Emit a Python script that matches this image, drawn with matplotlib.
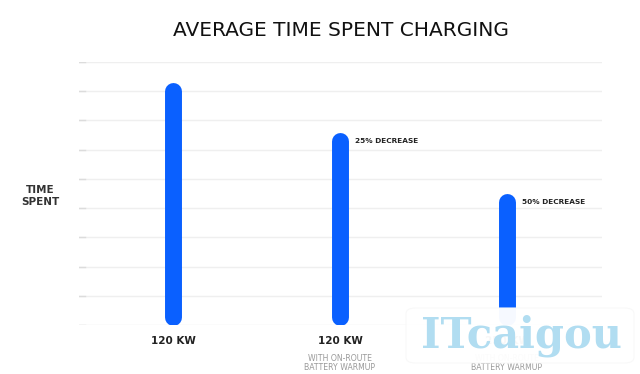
import matplotlib.pyplot as plt
from matplotlib.patches import FancyBboxPatch

# 数据
categories = ['120 KW', '120 KW', '250 KW']
subtitles = ['', 'WITH ON-ROUTE\nBATTERY WARMUP', 'WITH ON-ROUTE\nBATTERY WARMUP']
time_spent = [8.3, 6.6, 4.5]
notes = ['', '25% DECREASE', '50% DECREASE']
grid_levels = list(range(10))

BLUE = '#0a60ff'
DARK = '#222222'

fig = plt.figure(figsize=(6.4, 3.74), dpi=100)
ax = fig.add_axes([79 / 640, 49 / 374, 523 / 640, 263 / 374])
ax.set_xlim(-0.563, 2.569)
ax.set_ylim(0, 9)
ax.axis('off')

# 网格线（左端略深的小刻度）
for g in grid_levels:
    ax.axhline(g, color='#efefef', lw=1.0, zorder=0)
    ax.plot([-0.563, -0.53], [g, g], color='#dcdcdc', lw=1.0, zorder=1)

# 圆角竖条：粗线 + 圆头
bar_w_pt = 12.2
cap = (bar_w_pt / 72 * 100 / 2) / 263 * 9  # 圆头半径换算成数据单位
for i, v in enumerate(time_spent):
    ax.plot([i, i], [cap, v - cap], color=BLUE, lw=bar_w_pt,
            solid_capstyle='round', zorder=3)
    if notes[i]:
        ax.text(i + 0.09, v - 0.3, notes[i], fontsize=5.3, fontweight='bold',
                color=DARK, va='center', ha='left')

# 类别标签
for i, (c, s) in enumerate(zip(categories, subtitles)):
    ax.text(i, -0.55, c, fontsize=7.5, fontweight='bold', color=DARK,
            ha='center', va='center')
    if s:
        ax.text(i, -0.98, s, fontsize=5.6, color='#9a9a9a', ha='center',
                va='top', linespacing=1.05)

# 标题与纵轴说明
fig.text(341 / 640, 1 - 30 / 374, 'AVERAGE TIME SPENT CHARGING', fontsize=14.5,
         color='#111111', ha='center', va='center')
fig.text(40 / 640, 1 - 196 / 374, 'TIME\nSPENT', fontsize=7.5, fontweight='bold',
         color='#333333', ha='center', va='center', linespacing=1.25)

# 水印
fig.patches.append(FancyBboxPatch((406 / 640, 11 / 374), 228 / 640, 55 / 374,
                                  boxstyle='round,pad=0,rounding_size=0.015',
                                  transform=fig.transFigure, fc='white',
                                  ec='#f8f8f8', lw=0.8, alpha=0.97, zorder=5))
fig.text(521 / 640, 1 - 336 / 374, 'ITcaigou', fontsize=30, fontweight='bold',
         family='DejaVu Serif', color='#b1ddf1', ha='center', va='center',
         zorder=6)

fig.savefig('out.png', dpi=100, facecolor='white')
